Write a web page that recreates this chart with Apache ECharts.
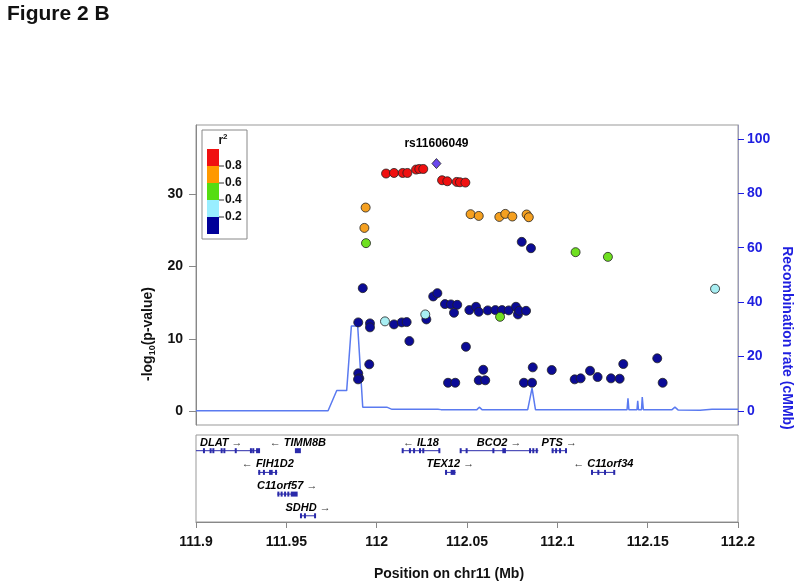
<!DOCTYPE html>
<html><head><meta charset="utf-8">
<script src="https://cdn.jsdelivr.net/npm/echarts@6/dist/echarts.min.js"></script>
<style>html,body{margin:0;padding:0;background:#fff}#c{width:800px;height:583px}</style>
</head><body><div id="c"></div>
<script>
const FONT = '"Liberation Sans", Arial, Helvetica, sans-serif';

// ---- axis ticks ----
const xTicks = [111.9, 111.95, 112, 112.05, 112.1, 112.15, 112.2];
const pTicks = [0, 10, 20, 30];
const recTicks = [0, 20, 40, 60, 80, 100];
const r2Labels = ['0.8', '0.6', '0.4', '0.2'];

// ---- SNPs: [position Mb, -log10 p] grouped by r^2 class ----
const leadName = 'rs11606049';
const leadSnp = [[112.0331, 34.26]];
const redPts = [
  [112.0052, 32.88], [112.0096, 32.96], [112.0144, 32.96], [112.0170, 32.96],
  [112.0218, 33.43], [112.0236, 33.51], [112.0258, 33.51],
  [112.0362, 31.95], [112.0391, 31.81], [112.0443, 31.72], [112.0461, 31.67], [112.0491, 31.63]
];
const orangePts = [
  [111.9939, 28.17], [111.9932, 25.35], [112.0520, 27.25], [112.0565, 27.01],
  [112.0679, 26.87], [112.0712, 27.29], [112.0751, 26.93], [112.0830, 27.21], [112.0842, 26.83]
];
const greenPts = [
  [111.9941, 23.24], [112.0683, 13.04], [112.1101, 21.99], [112.1280, 21.34]
];
const cyanPts = [
  [112.0046, 12.41], [112.0269, 13.37], [112.1873, 16.92]
];
const navyPts = [
  [111.9923, 17.01], [111.9898, 12.27], [111.9963, 12.13], [111.9963, 11.58],
  [111.9898, 5.21], [111.9904, 4.52], [111.9897, 4.38], [111.9959, 6.46],
  [112.0096, 11.99], [112.0139, 12.27], [112.0166, 12.31], [112.0181, 9.68],
  [112.0275, 12.68], [112.0313, 15.86], [112.0336, 16.32], [112.0378, 14.80],
  [112.0411, 14.76], [112.0446, 14.70], [112.0428, 13.60], [112.0513, 13.97],
  [112.0550, 14.43], [112.0565, 13.73], [112.0615, 13.93], [112.0657, 13.97],
  [112.0694, 13.97], [112.0731, 13.93], [112.0771, 14.43], [112.0782, 13.37],
  [112.0789, 13.87], [112.0827, 13.87], [112.0494, 8.89], [112.0590, 5.71],
  [112.0565, 4.25], [112.0601, 4.25], [112.0395, 3.91], [112.0435, 3.91],
  [112.0815, 3.91], [112.0860, 3.91], [112.0864, 6.04], [112.0969, 5.67],
  [112.0803, 23.42], [112.0854, 22.54], [112.1096, 4.38], [112.1129, 4.52],
  [112.1181, 5.57], [112.1223, 4.70], [112.1297, 4.52], [112.1345, 4.47],
  [112.1365, 6.50], [112.1553, 7.29], [112.1583, 3.91]
];

// ---- recombination rate (cM/Mb) ----
const recPos = [111.9, 111.9731, 111.9779, 111.9834, 111.9860, 111.9895, 111.9923, 112.0056,
  112.0085, 112.0339, 112.0347, 112.0356, 112.0555, 112.0568, 112.0583, 112.0836, 112.0860,
  112.0879, 112.1386, 112.1391, 112.1396, 112.1441, 112.1445, 112.1449, 112.1466, 112.1470,
  112.1476, 112.1635, 112.1651, 112.1668, 112.1790, 112.1856, 112.2];
const recRate = [0.1, 0.1, 7.5, 7.5, 31.2, 31.2, 1.4, 1.4,
  0.6, 0.6, 0.9, 0.5, 0.5, 1.4, 0.5, 0.5, 8.4,
  0.5, 0.5, 4.7, 0.5, 0.5, 3.7, 0.5, 0.5, 5.1,
  0.5, 0.5, 1.4, 0.4, 0.3, 0.6, 0.6];

// ---- genes ----
const geneNames = ['DLAT', 'TIMM8B', 'FIH1D2', 'C11orf57', 'SDHD', 'IL18', 'TEX12', 'BCO2', 'PTS', 'C11orf34'];
const geneStarts = [111.8930, 111.9553, 111.9345, 111.9450, 111.9576, 112.0140, 112.0378, 112.0461, 112.0969, 112.1190];
const geneEnds = [111.9350, 111.9575, 111.9450, 111.9560, 111.9664, 112.0350, 112.0437, 112.0895, 112.1052, 112.1319];
const geneRows = [0, 0, 1, 2, 3, 0, 1, 0, 0, 1];
const geneStrands = [1, -1, -1, 1, 1, -1, 1, 1, 1, -1];
const geneExons = [
  [[111.9044, 111.9044], [111.9081, 111.9081], [111.9096, 111.9096], [111.9142, 111.9142], [111.9157, 111.9157], [111.9220, 111.9220], [111.9304, 111.9304], [111.9317, 111.9317], [111.9338, 111.9349]],
  [[111.9553, 111.9575]],
  [[111.9350, 111.9350], [111.9376, 111.9376], [111.9410, 111.9419], [111.9443, 111.9443]],
  [[111.9456, 111.9456], [111.9474, 111.9474], [111.9493, 111.9493], [111.9511, 111.9511], [111.9530, 111.9557]],
  [[111.9581, 111.9581], [111.9603, 111.9603], [111.9659, 111.9659]],
  [[112.0144, 112.0144], [112.0184, 112.0184], [112.0207, 112.0207], [112.0240, 112.0240], [112.0258, 112.0258], [112.0347, 112.0347]],
  [[112.0384, 112.0384], [112.0415, 112.0430]],
  [[112.0465, 112.0465], [112.0498, 112.0498], [112.0646, 112.0646], [112.0701, 112.0710], [112.0849, 112.0849], [112.0867, 112.0867], [112.0886, 112.0886]],
  [[112.0974, 112.0974], [112.0993, 112.0993], [112.1015, 112.1015], [112.1048, 112.1048]],
  [[112.1192, 112.1192], [112.1227, 112.1227], [112.1264, 112.1264], [112.1315, 112.1315]]
];

const geneData = geneNames.map((n, i) => [geneStarts[i], geneEnds[i], geneRows[i], i]);

const COL = { red: '#f01010', orange: '#f5a020', green: '#6fe020', cyan: '#a8eef2', navy: '#0b0b96', lead: '#6a48ee' };
const GENE_COLOR = '#2a2aaa';
const REC_COLOR = '#5a7af0';
const RIGHT_BLUE = '#1e1ee0';

function snpSeries(name, data, color) {
  return {
    name, type: 'scatter', xAxisIndex: 0, yAxisIndex: 0, data,
    symbol: 'circle', symbolSize: 9, z: 3,
    itemStyle: { color, borderColor: '#222', borderWidth: 0.8, opacity: 1 },
    emphasis: { disabled: true }, animation: false
  };
}

function renderGene(params, api) {
  const i = api.value(3);
  const s = api.coord([api.value(0), api.value(2)]);
  const e = api.coord([api.value(1), api.value(2)]);
  const y = s[1];
  const children = [{ type: 'line', shape: { x1: s[0], y1: y, x2: e[0], y2: y }, style: { stroke: GENE_COLOR, lineWidth: 1 } }];
  geneExons[i].forEach(ex => {
    const a = api.coord([ex[0], api.value(2)])[0];
    const b = api.coord([ex[1], api.value(2)])[0];
    children.push({ type: 'rect', shape: { x: a - 1, y: y - 2.5, width: Math.max(b - a, 0) + 2, height: 5 }, style: { fill: GENE_COLOR } });
  });
  const mid = (s[0] + e[0]) / 2;
  const name = geneNames[i];
  const txt = geneStrands[i] > 0 ? '{g|' + name + '}{a| →}' : '{a|← }{g|' + name + '}';
  children.push({
    type: 'text',
    style: {
      text: txt, x: mid, y: y - 8, align: 'center', verticalAlign: 'middle',
      rich: {
        g: { font: 'italic bold 11px ' + FONT, fill: '#000' },
        a: { font: '11px ' + FONT, fill: '#333' }
      }
    }
  });
  return { type: 'group', children };
}

const chart = echarts.init(document.getElementById('c'), null, { renderer: 'canvas' });

const legendX = 202, legendY = 130;
const legendColors = [COL.red, '#ff9900', '#55dd11', '#99eeff', '#000099'];
const legendChildren = [
  { type: 'rect', shape: { x: legendX, y: legendY, width: 45, height: 109 }, style: { fill: '#fff', stroke: '#888', lineWidth: 1 } },
  { type: 'text', style: { text: '{r|r}{s|2}', x: legendX + 21, y: legendY + 10, align: 'center', verticalAlign: 'middle',
      rich: { r: { font: 'bold 12px ' + FONT, fill: '#111', verticalAlign: 'bottom', lineHeight: 14 }, s: { font: 'bold 8px ' + FONT, fill: '#111', verticalAlign: 'top', lineHeight: 14 } } } }
];
legendColors.forEach((c, k) => {
  legendChildren.push({ type: 'rect', shape: { x: legendX + 5, y: legendY + 19 + k * 17, width: 12, height: 17 }, style: { fill: c, stroke: null } });
});
r2Labels.forEach((t, k) => {
  const yy = legendY + 36 + k * 17;
  legendChildren.push({ type: 'line', shape: { x1: legendX + 17, y1: yy, x2: legendX + 22, y2: yy }, style: { stroke: '#333', lineWidth: 1 } });
  legendChildren.push({ type: 'text', style: { text: t, x: legendX + 23, y: yy, align: 'left', verticalAlign: 'middle', font: 'bold 12px ' + FONT, fill: '#111' } });
});

const option = {
  animation: false,
  backgroundColor: '#fff',
  grid: [
    { left: 196, top: 125, width: 542, height: 300, show: true, borderColor: '#999', borderWidth: 1, backgroundColor: 'transparent' },
    { left: 196, top: 435, width: 542, height: 87, show: true, borderColor: '#999', borderWidth: 1, backgroundColor: 'transparent' }
  ],
  xAxis: [
    { type: 'value', gridIndex: 0, min: 111.9, max: 112.2, show: false, splitLine: { show: false } },
    { type: 'value', gridIndex: 1, min: 111.9, max: 112.2, position: 'bottom',
      axisLine: { show: true, onZero: false, lineStyle: { color: '#888', width: 1 } },
      axisTick: { show: true, length: 6, lineStyle: { color: '#888' }, customValues: xTicks },
      axisLabel: { show: true, customValues: xTicks, margin: 13, color: '#111', fontWeight: 'bold', fontSize: 14, fontFamily: FONT,
        formatter: v => String(+Number(v).toFixed(2)) },
      splitLine: { show: false } }
  ],
  yAxis: [
    { type: 'value', gridIndex: 0, position: 'left', min: -1.94, max: 39.6,
      axisLine: { show: true, onZero: false, lineStyle: { color: '#888' } },
      axisTick: { show: true, length: 7, lineStyle: { color: '#888' }, customValues: pTicks },
      axisLabel: { show: true, customValues: pTicks, margin: 13, color: '#111', fontWeight: 'bold', fontSize: 14, fontFamily: FONT },
      splitLine: { show: false } },
    { type: 'value', gridIndex: 0, position: 'right', min: -5.15, max: 105.1,
      axisLine: { show: true, onZero: false, lineStyle: { color: '#9a9ab8' } },
      axisTick: { show: true, length: 6, lineStyle: { color: RIGHT_BLUE }, customValues: recTicks },
      axisLabel: { show: true, customValues: recTicks, margin: 9, color: RIGHT_BLUE, fontWeight: 'bold', fontSize: 14, fontFamily: FONT },
      splitLine: { show: false } },
    { type: 'value', gridIndex: 1, min: -0.723, max: 3.286, inverse: true, show: false, splitLine: { show: false } }
  ],
  series: [
    { name: 'recomb', type: 'line', xAxisIndex: 0, yAxisIndex: 1,
      data: recPos.map((p, i) => [p, recRate[i]]),
      showSymbol: false, symbol: 'none', lineStyle: { color: REC_COLOR, width: 1.5 }, z: 1, silent: true },
    snpSeries('r2<0.2', navyPts, COL.navy),
    snpSeries('r2 0.2-0.4', cyanPts, COL.cyan),
    snpSeries('r2 0.4-0.6', greenPts, COL.green),
    snpSeries('r2 0.6-0.8', orangePts, COL.orange),
    snpSeries('r2>0.8', redPts, COL.red),
    { name: 'lead', type: 'scatter', xAxisIndex: 0, yAxisIndex: 0, data: leadSnp,
      symbol: 'diamond', symbolSize: [9, 10], z: 4,
      itemStyle: { color: COL.lead, borderColor: '#222', borderWidth: 0.8, opacity: 1 },
      label: { show: true, position: 'top', distance: 8, formatter: leadName, color: '#000', opacity: 1, fontWeight: 'bold', fontSize: 12, fontFamily: FONT },
      emphasis: { disabled: true } },
    { name: 'genes', type: 'custom', xAxisIndex: 1, yAxisIndex: 2, data: geneData, clip: true,
      renderItem: renderGene, silent: true }
  ],
  graphic: [
    { type: 'text', left: 7, top: 4, style: { text: 'Figure 2 B', font: 'bold 21px ' + FONT, fill: '#111' } },
    { type: 'group', children: legendChildren, z: 10 },
    { type: 'text', x: 148, y: 334, rotation: Math.PI / 2,
      style: { text: '{a|-log}{s|10}{a|(p-value)}', align: 'center', verticalAlign: 'middle',
        rich: { a: { font: 'bold 14px ' + FONT, fill: '#111', lineHeight: 18 }, s: { font: 'bold 9px ' + FONT, fill: '#111', verticalAlign: 'bottom', lineHeight: 12 } } } },
    { type: 'text', x: 787, y: 338, rotation: -Math.PI / 2,
      style: { text: 'Recombination rate (cMMb)', align: 'center', verticalAlign: 'middle', font: 'bold 14px ' + FONT, fill: RIGHT_BLUE } },
    { type: 'text', x: 449, y: 574,
      style: { text: 'Position on chr11 (Mb)', align: 'center', verticalAlign: 'middle', font: 'bold 14px ' + FONT, fill: '#111' } }
  ]
};
chart.setOption(option);
</script>
</body></html>
